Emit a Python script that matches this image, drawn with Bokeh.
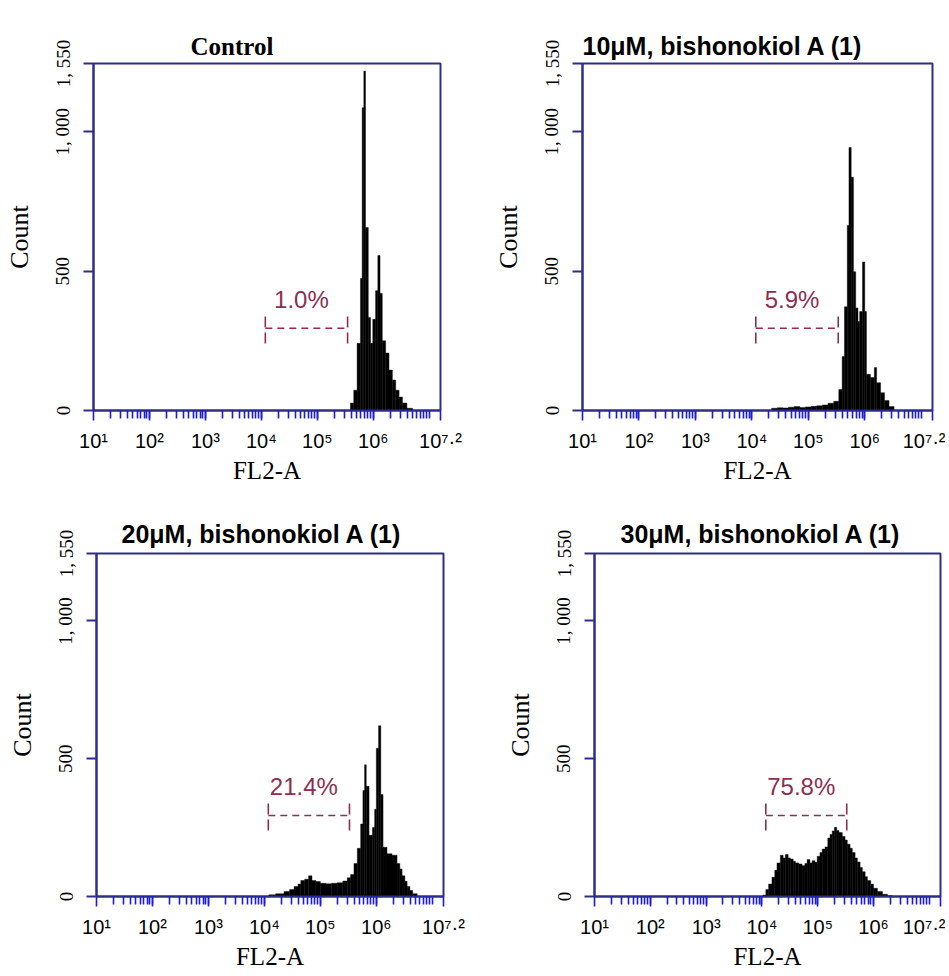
from bokeh.plotting import figure
from bokeh.layouts import column, row
from bokeh.models import Range1d, FixedTicker
from bokeh.embed import file_html
from bokeh.resources import INLINE
from bokeh.core.properties import value

# ---------------- data ----------------
titles = ["Control", "10μM, bishonokiol A (1)", "20μM, bishonokiol A (1)", "30μM, bishonokiol A (1)"]
gate_pct = ["1.0%", "5.9%", "21.4%", "75.8%"]
gate_lo_exp = [4.07, 4.07, 4.07, 4.07]
gate_hi_exp = [5.54, 5.53, 5.52, 5.52]
gate_level = [295, 295, 294, 294]
gate_cap_lo = [240, 240, 240, 240]
gate_cap_hi = [350, 350, 350, 350]
gate_text_level = [400, 400, 400, 400]

x_tick_exps = [1, 2, 3, 4, 5, 6, 7.2]
x_tick_labels = ["10¹", "10²", "10³", "10⁴", "10⁵", "10⁶", "10⁷·²"]
y_ticks = [0, 500, 1000, 1245]
y_tick_labels = ["0", "500", "1, 000", "1, 550"]
x_label = "FL2-A"
y_label = "Count"

# histogram bin edges (log10 of FL2-A) and counts
ctrl_edges = [5.59, 5.65, 5.71, 5.77, 5.80, 5.83, 5.86, 5.91, 5.95, 5.99, 6.04, 6.08,
              6.12, 6.16, 6.22, 6.28, 6.34, 6.40, 6.46, 6.52, 6.60, 6.70]
ctrl_counts = [27, 73, 241, 474, 1086, 1218, 657, 334, 241, 327, 430, 556, 420, 250,
               206, 145, 109, 73, 48, 27, 8]

c10_edges = [4.35, 4.45, 4.55, 4.65, 4.75, 4.85, 4.95, 5.05, 5.15, 5.25, 5.35, 5.45,
             5.54, 5.60, 5.64, 5.69, 5.72, 5.76, 5.80, 5.84, 5.88, 5.91, 5.96, 6.00,
             6.03, 6.10, 6.17, 6.21, 6.28, 6.35, 6.43, 6.52]
c10_counts = [8, 10, 9, 12, 14, 11, 13, 15, 17, 20, 26, 33, 75, 194, 372, 664, 944, 837,
              498, 368, 319, 355, 533, 355, 130, 118, 154, 100, 64, 36, 14]

c20_edges = [4.08, 4.20, 4.35, 4.45, 4.53, 4.60, 4.65, 4.72, 4.79, 4.85, 4.92, 5.00,
             5.10, 5.20, 5.30, 5.40, 5.48, 5.54, 5.60, 5.66, 5.72, 5.76, 5.79, 5.82,
             5.87, 5.93, 5.97, 6.00, 6.04, 6.08, 6.12, 6.19, 6.28, 6.37, 6.42, 6.46,
             6.51, 6.55, 6.60, 6.65, 6.73]
c20_counts = [6, 10, 18, 25, 36, 45, 58, 63, 75, 58, 54, 48, 46, 48, 50, 56, 68, 80, 120,
              175, 263, 385, 478, 400, 222, 250, 317, 538, 620, 370, 179, 155, 150, 120,
              100, 75, 55, 36, 22, 10]

c30_edges = [4.02, 4.07, 4.12, 4.18, 4.23, 4.27, 4.33, 4.38, 4.42, 4.47, 4.51, 4.56,
             4.60, 4.66, 4.72, 4.77, 4.81, 4.86, 4.90, 4.95, 4.99, 5.04, 5.08, 5.13,
             5.18, 5.22, 5.26, 5.30, 5.34, 5.38, 5.44, 5.49, 5.53, 5.58, 5.62, 5.67,
             5.71, 5.76, 5.80, 5.85, 5.89, 5.95, 6.00, 6.07, 6.16, 6.25, 6.34]
c30_counts = [5, 25, 45, 70, 95, 122, 150, 140, 152, 140, 136, 128, 122, 118, 112, 120,
              134, 122, 130, 124, 146, 160, 172, 180, 212, 225, 238, 251, 240, 232, 218,
              205, 190, 175, 160, 140, 125, 105, 90, 72, 58, 45, 30, 18, 8, 3]

all_edges = [ctrl_edges, c10_edges, c20_edges, c30_edges]
all_counts = [ctrl_counts, c10_counts, c20_counts, c30_counts]

# ---------------- styling / layout ----------------
NAVY = "#2e2e86"
TICKBLUE = "#1a1ae8"
GATE = "#8c2f50"

layouts = [
    dict(w=478, h=488, l=93, r=38, t=62, b=78, toff=97, tstand=8),
    dict(w=467, h=488, l=104, r=13, t=63, b=77, toff=0, tstand=8),
    dict(w=478, h=484, l=96, r=35, t=65, b=72, toff=25, tstand=12),
    dict(w=467, h=484, l=116, r=5, t=65, b=71, toff=26, tstand=12),
]

X0, X1 = 10 ** x_tick_exps[0], 10 ** x_tick_exps[-1]
major_x = [10 ** e for e in x_tick_exps]
minor_x = [k * 10 ** d for d in range(1, 7) for k in range(2, 11)]


def make_panel(i):
    lay = layouts[i]
    p = figure(width=lay["w"], height=lay["h"], x_axis_type="log",
               x_range=Range1d(X0, X1), y_range=Range1d(0, y_ticks[-1]),
               output_backend="svg", toolbar_location=None,
               min_border_left=lay["l"], min_border_right=lay["r"],
               min_border_top=lay["t"], min_border_bottom=lay["b"],
               background_fill_color="white", border_fill_color="white")
    p.xgrid.visible = False
    p.ygrid.visible = False
    p.outline_line_color = NAVY
    p.outline_line_width = 2

    # title
    p.title.text = titles[i]
    p.title.align = "left"
    p.title.offset = lay["toff"]
    p.title.standoff = lay["tstand"]
    if i == 0:
        p.title.text_font = "Liberation Serif"
        p.title.text_font_size = "25px"
    else:
        p.title.text_font = "Liberation Sans"
        p.title.text_font_size = "25px"
    p.title.text_font_style = "bold"
    p.title.text_color = "black"

    # histogram
    edges = all_edges[i]
    counts = all_counts[i]
    p.quad(left=[10 ** e for e in edges[:-1]], right=[10 ** e for e in edges[1:]],
           bottom=[0] * len(counts), top=counts,
           fill_color="black", line_color="black", line_width=0.4)

    # gate marker
    lo, hi = 10 ** gate_lo_exp[i], 10 ** gate_hi_exp[i]
    p.segment(x0=[lo], y0=[gate_level[i]], x1=[hi], y1=[gate_level[i]],
              line_color=GATE, line_width=1.6, line_dash="7 5")
    p.segment(x0=[lo, hi], y0=[gate_cap_lo[i]] * 2, x1=[lo, hi], y1=[gate_cap_hi[i]] * 2,
              line_color=GATE, line_width=1.6, line_dash="11 5")
    mid = 10 ** ((gate_lo_exp[i] + gate_hi_exp[i]) / 2)
    p.text(x=[mid], y=[gate_text_level[i]], text=[gate_pct[i]], text_align="center",
           text_baseline="middle", text_font=value("Liberation Sans"),
           text_font_size="24px", text_color=GATE, x_offset=-5)

    # x axis
    xa = p.xaxis[0]
    xa.ticker = FixedTicker(ticks=major_x, minor_ticks=minor_x)
    xa.major_label_overrides = {t: s for t, s in zip(major_x, x_tick_labels)}
    xa.axis_line_color = NAVY
    xa.axis_line_width = 2
    xa.major_tick_line_color = TICKBLUE
    xa.major_tick_line_width = 1.6
    xa.major_tick_out = 10
    xa.major_tick_in = 0
    xa.minor_tick_line_color = TICKBLUE
    xa.minor_tick_line_width = 1.6
    xa.minor_tick_out = 8
    xa.minor_tick_in = 0
    xa.major_label_text_font = "Liberation Sans"
    xa.major_label_text_font_size = "20px"
    xa.major_label_text_color = "black"
    xa.major_label_standoff = 9
    xa.axis_label = x_label
    xa.axis_label_text_font = "Liberation Serif"
    xa.axis_label_text_font_size = "25px"
    xa.axis_label_text_font_style = "normal"
    xa.axis_label_text_color = "black"
    xa.axis_label_standoff = 2

    # y axis
    ya = p.yaxis[0]
    ya.ticker = FixedTicker(ticks=y_ticks, minor_ticks=[])
    ya.major_label_overrides = {t: s for t, s in zip(y_ticks, y_tick_labels)}
    ya.major_label_orientation = "vertical"
    ya.axis_line_color = NAVY
    ya.axis_line_width = 2
    ya.major_tick_line_color = NAVY
    ya.major_tick_line_width = 2
    ya.major_tick_out = 10
    ya.major_tick_in = 0
    ya.minor_tick_line_color = None
    ya.major_label_text_font = "Liberation Serif"
    ya.major_label_text_font_size = "19px"
    ya.major_label_text_color = "black"
    ya.major_label_standoff = 10
    ya.axis_label = y_label
    ya.axis_label_text_font = "Liberation Serif"
    ya.axis_label_text_font_size = "26px"
    ya.axis_label_text_font_style = "normal"
    ya.axis_label_text_color = "black"
    ya.axis_label_standoff = 16
    return p


panels = [make_panel(i) for i in range(4)]
layout = column(row(panels[0], panels[1]), row(panels[2], panels[3]))

open("out.html", "w").write(file_html(layout, INLINE))
